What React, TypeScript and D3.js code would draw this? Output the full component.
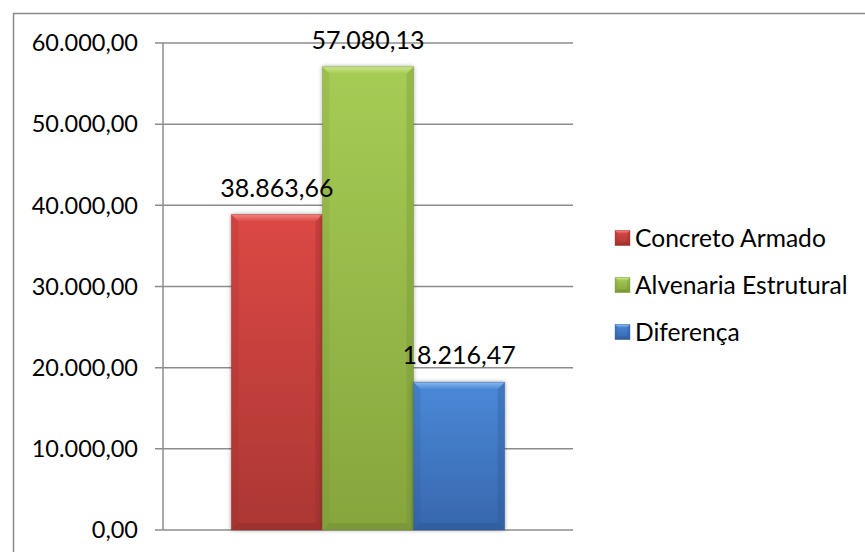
import React from "react";
import * as d3 from "d3";

const categories = ["Concreto Armado", "Alvenaria Estrutural", "Diferença"];
const values = [38863.66, 57080.13, 18216.47];
const yTicks = [0, 10000, 20000, 30000, 40000, 50000, 60000];

const palette = [
  { top: "#dc4845", bottom: "#ab3733", hi: "#f58481", dark: "#8f2c29" },
  { top: "#a6cc55", bottom: "#86a53d", hi: "#cbe58a", dark: "#6e8a31" },
  { top: "#4b89d8", bottom: "#3767ad", hi: "#8ab9f0", dark: "#2c548e" },
];

const W = 865;
const H = 552;
const plotLeft = 163;
const plotRight = 573;
const plotTop = 43;
const plotBottom = 530;
const FONT = "Lato, 'Noto Sans', sans-serif";

const locale = d3.formatLocale({
  decimal: ",",
  thousands: ".",
  grouping: [3],
  currency: ["", ""],
});
const fmt = locale.format(",.2f");

function BevelBar({ x, y, w, h, c, id, b = 7 }) {
  const bb = Math.min(b, h / 2, w / 2);
  return (
    <g>
      <defs>
        <linearGradient id={`g${id}`} x1="0" y1="0" x2="0" y2="1">
          <stop offset="0" stopColor={c.top} />
          <stop offset="1" stopColor={c.bottom} />
        </linearGradient>
        <linearGradient id={`h${id}`} x1="0" y1="0" x2="0" y2="1">
          <stop offset="0" stopColor={c.hi} />
          <stop offset="1" stopColor={c.top} />
        </linearGradient>
      </defs>
      <rect x={x} y={y} width={w} height={h} fill={`url(#g${id})`} />
      <polygon
        points={`${x},${y} ${x + w},${y} ${x + w - bb},${y + bb} ${x + bb},${y + bb}`}
        fill={`url(#h${id})`}
      />
      <polygon
        points={`${x},${y} ${x + bb},${y + bb} ${x + bb},${y + h - bb} ${x},${y + h}`}
        fill={c.dark}
        opacity={0.18}
      />
      <polygon
        points={`${x + w},${y} ${x + w - bb},${y + bb} ${x + w - bb},${y + h - bb} ${x + w},${y + h}`}
        fill={c.dark}
        opacity={0.3}
      />
      <polygon
        points={`${x},${y + h} ${x + bb},${y + h - bb} ${x + w - bb},${y + h - bb} ${x + w},${y + h}`}
        fill={c.dark}
        opacity={0.45}
      />
      <rect x={x} y={y} width={w} height={h} fill="none" stroke={c.dark} strokeOpacity={0.35} strokeWidth={1} />
    </g>
  );
}

export default function App() {
  const y = d3.scaleLinear().domain([0, 60000]).range([plotBottom, plotTop]);
  const x = d3
    .scaleBand()
    .domain(categories)
    .range([plotLeft, plotRight])
    .paddingInner(0)
    .paddingOuter(0.75);
  const bw = x.bandwidth();

  return (
    <svg
      width={W}
      height={H}
      style={{ position: "absolute", left: 0, top: 0, background: "#fff" }}
    >
      <defs>
        <filter id="shadow" x="-20%" y="-10%" width="140%" height="120%">
          <feGaussianBlur in="SourceAlpha" stdDeviation="2" />
          <feOffset dx="0" dy="0" result="b" />
          <feComponentTransfer>
            <feFuncA type="linear" slope="0.35" />
          </feComponentTransfer>
          <feMerge>
            <feMergeNode />
            <feMergeNode in="SourceGraphic" />
          </feMerge>
        </filter>
      </defs>
      <rect x={13.5} y={13.5} width={1000} height={1000} fill="#fff" stroke="#8a8a8a" strokeWidth={1.5} />

      {yTicks.map((t) => (
        <g key={t}>
          <line
            x1={plotLeft - 8}
            x2={plotRight}
            y1={y(t)}
            y2={y(t)}
            stroke="#8c8c8c"
            strokeWidth={1.5}
          />
          <text
            x={138}
            y={y(t)}
            dy="0.35em"
            textAnchor="end"
            fontFamily={FONT}
            fontSize={23.5}
            fill="#000"
          >
            {fmt(t)}
          </text>
        </g>
      ))}
      <line x1={plotLeft} x2={plotLeft} y1={plotTop} y2={plotBottom} stroke="#8c8c8c" strokeWidth={1.5} />

      {categories.map((c, i) => {
        const bx = x(c);
        const by = y(values[i]);
        return (
          <g key={c} filter="url(#shadow)">
            <BevelBar x={bx} y={by} w={bw} h={plotBottom - by} c={palette[i]} id={`bar${i}`} />
          </g>
        );
      })}

      {categories.map((c, i) => (
        <text
          key={c}
          x={x(c) + bw / 2}
          y={y(values[i]) - 18}
          textAnchor="middle"
          fontFamily={FONT}
          fontSize={25}
          fill="#000"
        >
          {fmt(values[i])}
        </text>
      ))}

      {categories.map((c, i) => {
        const ly = 238 + i * 47;
        return (
          <g key={c}>
            <BevelBar x={615} y={ly - 7.5} w={15} h={15} c={palette[i]} id={`leg${i}`} b={3} />
            <text x={635} y={ly} dy="0.35em" fontFamily={FONT} fontSize={24.6} fill="#000">
              {c}
            </text>
          </g>
        );
      })}
    </svg>
  );
}
